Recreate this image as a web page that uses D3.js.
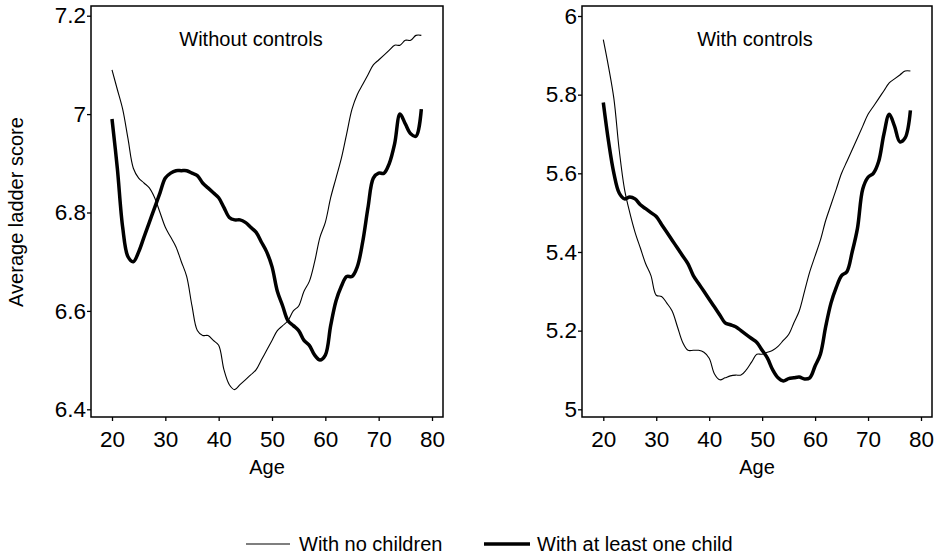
<!DOCTYPE html>
<html>
<head>
<meta charset="utf-8">
<script src="https://cdn.jsdelivr.net/npm/d3@7"></script>
<style>
  body { margin: 0; background: #fff; }
  text { font-family: "Liberation Sans", Arial, sans-serif; fill: #000; }
</style>
</head>
<body>
<svg id="chart" width="939" height="555"></svg>
<script>
// Ages 20..78
var ages = d3.range(20, 79);

// Without controls
var leftNoChildren = [7.09,7.05,7.01,6.95,6.89,6.87,6.86,6.85,6.83,6.80,6.77,6.75,6.73,6.70,6.67,6.61,6.56,6.55,6.55,6.54,6.53,6.48,6.45,6.44,6.45,6.46,6.47,6.48,6.50,6.52,6.54,6.56,6.57,6.58,6.60,6.61,6.64,6.66,6.70,6.75,6.78,6.83,6.87,6.91,6.96,7.01,7.04,7.06,7.08,7.10,7.11,7.12,7.13,7.14,7.14,7.15,7.15,7.16,7.16];
var leftOneChild = [6.99,6.89,6.77,6.71,6.70,6.72,6.75,6.78,6.81,6.84,6.87,6.88,6.885,6.885,6.885,6.88,6.875,6.86,6.85,6.84,6.83,6.81,6.79,6.785,6.785,6.78,6.77,6.76,6.74,6.72,6.69,6.64,6.61,6.58,6.57,6.56,6.54,6.53,6.51,6.50,6.51,6.57,6.62,6.65,6.67,6.67,6.69,6.74,6.81,6.87,6.88,6.88,6.90,6.94,7.00,6.98,6.96,6.955,7.01];

// With controls
var rightNoChildren = [5.94,5.87,5.79,5.66,5.56,5.50,5.45,5.41,5.37,5.34,5.29,5.287,5.27,5.25,5.21,5.17,5.15,5.15,5.15,5.145,5.13,5.09,5.075,5.08,5.085,5.087,5.087,5.10,5.12,5.14,5.14,5.145,5.15,5.16,5.175,5.19,5.22,5.25,5.30,5.35,5.39,5.43,5.48,5.52,5.56,5.60,5.63,5.66,5.69,5.72,5.75,5.77,5.79,5.81,5.83,5.84,5.85,5.86,5.86];
var rightOneChild = [5.78,5.68,5.60,5.55,5.535,5.54,5.535,5.52,5.51,5.50,5.49,5.47,5.45,5.43,5.41,5.39,5.37,5.34,5.32,5.30,5.28,5.26,5.24,5.22,5.215,5.21,5.20,5.19,5.18,5.17,5.15,5.13,5.10,5.08,5.072,5.078,5.08,5.082,5.077,5.08,5.11,5.14,5.21,5.27,5.31,5.34,5.35,5.40,5.46,5.56,5.59,5.60,5.63,5.70,5.75,5.72,5.68,5.69,5.76];

var xTicks = [20, 30, 40, 50, 60, 70, 80];
var leftYTicks = [6.4, 6.6, 6.8, 7, 7.2];
var rightYTicks = [5, 5.2, 5.4, 5.6, 5.8, 6];

var svg = d3.select("#chart");

function drawPanel(opts) {
    var x = d3.scaleLinear().domain([20, 80]).range([opts.x20, opts.x80]);
    var y = d3.scaleLinear().domain(opts.yDomain).range([opts.yBottom, opts.yTop]);
    var g = svg.append("g");

    // frame
    g.append("rect")
        .attr("x", opts.left).attr("y", 6)
        .attr("width", opts.right - opts.left).attr("height", 411)
        .attr("fill", "none").attr("stroke", "#000").attr("stroke-width", 1.5);

    var yAxis = g.append("g")
        .attr("transform", "translate(" + opts.left + ",0)")
        .call(d3.axisLeft(y).tickValues(opts.yTicks).tickSize(4).tickFormat(d3.format("")));
    var xAxis = g.append("g")
        .attr("transform", "translate(0,417)")
        .call(d3.axisBottom(x).tickValues(xTicks).tickSize(4));
    [yAxis, xAxis].forEach(function (a) {
        a.attr("font-size", null).attr("font-family", null);
        a.select(".domain").remove();
        a.selectAll("line").attr("stroke", "#000").attr("stroke-width", 1.3);
        a.selectAll("text").style("font-size", "22.5px");
    });
    yAxis.selectAll("text").attr("x", -5);
    xAxis.selectAll("text").attr("dy", null).attr("y", 30);

    g.append("text")
        .attr("x", opts.titleX).attr("y", 46)
        .attr("text-anchor", "middle").style("font-size", "20px")
        .text(opts.title);

    g.append("text")
        .attr("x", (opts.left + opts.right) / 2).attr("y", 474)
        .attr("text-anchor", "middle").style("font-size", "20px")
        .text("Age");

    var line = d3.line()
        .x(function (d, i) { return x(ages[i]); })
        .y(function (d) { return y(d); })
        .curve(d3.curveCatmullRom);

    g.append("path").datum(opts.thin)
        .attr("d", line).attr("fill", "none").attr("stroke", "#000").attr("stroke-width", 1.1);
    g.append("path").datum(opts.thick)
        .attr("d", line).attr("fill", "none").attr("stroke", "#000").attr("stroke-width", 3.5)
        .attr("stroke-linejoin", "round");
}

drawPanel({
    left: 91, right: 443, x20: 112, x80: 432,
    yDomain: [6.4, 7.2], yBottom: 409.3, yTop: 15.7, yTicks: leftYTicks,
    title: "Without controls", titleX: 251,
    thin: leftNoChildren, thick: leftOneChild
});

drawPanel({
    left: 582, right: 932, x20: 603.3, x80: 921,
    yDomain: [5, 6], yBottom: 409.3, yTop: 16, yTicks: rightYTicks,
    title: "With controls", titleX: 755,
    thin: rightNoChildren, thick: rightOneChild
});

svg.append("text")
    .attr("transform", "translate(23,212) rotate(-90)")
    .attr("text-anchor", "middle").style("font-size", "20px")
    .text("Average ladder score");

// legend
var legend = svg.append("g");
legend.append("line").attr("x1", 246).attr("x2", 290).attr("y1", 544).attr("y2", 544)
    .attr("stroke", "#000").attr("stroke-width", 1.1);
legend.append("text").attr("x", 299).attr("y", 551).style("font-size", "20px").text("With no children");
legend.append("line").attr("x1", 484).attr("x2", 530).attr("y1", 544).attr("y2", 544)
    .attr("stroke", "#000").attr("stroke-width", 3.5);
legend.append("text").attr("x", 537).attr("y", 551).style("font-size", "20px").text("With at least one child");
</script>
</body>
</html>
